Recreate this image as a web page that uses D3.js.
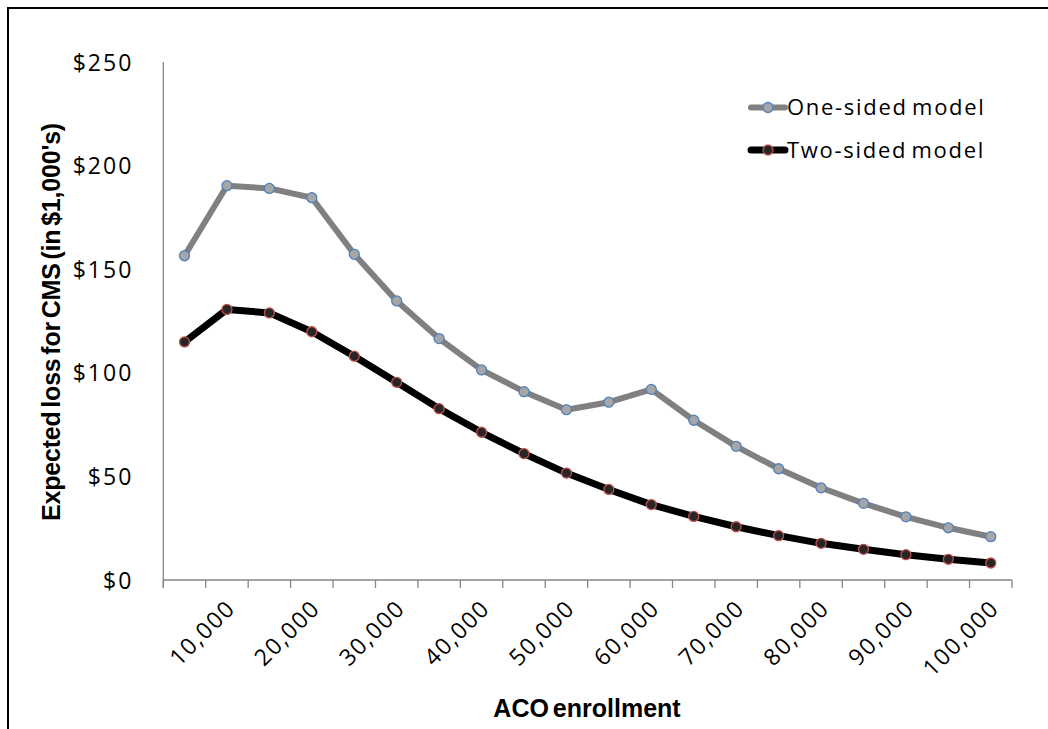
<!DOCTYPE html>
<html>
<head>
<meta charset="utf-8">
<script src="https://cdn.jsdelivr.net/npm/d3@7"></script>
<style>
  html, body { margin: 0; padding: 0; background: #fff; }
  svg { display: block; }
</style>
</head>
<body>
<svg id="chart" width="1048" height="729"></svg>
<script>
// ACO enrollment categories (5,000 to 100,000 in steps of 5,000)
const enrollment = [5000, 10000, 15000, 20000, 25000, 30000, 35000, 40000, 45000, 50000,
                    55000, 60000, 65000, 70000, 75000, 80000, 85000, 90000, 95000, 100000];

// Expected loss for CMS, in $1,000's
const oneSided = [156.5, 190.3, 189.0, 184.5, 157.2, 134.7, 116.5, 101.4, 90.9, 82.2,
                  85.8, 92.0, 77.1, 64.5, 53.7, 44.5, 37.0, 30.5, 25.2, 20.9];
const twoSided = [114.9, 130.6, 128.9, 119.8, 108.0, 95.4, 82.7, 71.3, 61.0, 51.6,
                  43.7, 36.4, 30.7, 25.7, 21.4, 17.7, 14.8, 12.2, 10.0, 8.2];

const yTicks = [0, 50, 100, 150, 200, 250];
const xTickLabels = [10000, 20000, 30000, 40000, 50000, 60000, 70000, 80000, 90000, 100000];

const seriesNames = ["One-sided model", "Two-sided model"];

const svg = d3.select("#chart");

// chart frame (left and top edges)
svg.append("line").attr("x1", 8).attr("x2", 8).attr("y1", 8).attr("y2", 729)
  .attr("stroke", "#000").attr("stroke-width", 2);
svg.append("line").attr("x1", 7).attr("x2", 1048).attr("y1", 8).attr("y2", 8)
  .attr("stroke", "#000").attr("stroke-width", 2);

const plot = { left: 163.3, right: 1012, top: 62, bottom: 580 };

const x = d3.scaleBand()
  .domain(enrollment)
  .range([plot.left, plot.right])
  .paddingInner(0).paddingOuter(0);

const y = d3.scaleLinear()
  .domain([0, 250])
  .range([plot.bottom, plot.top]);

const axisColor = "#868686";
const tickFont = "'Open Sans', 'DejaVu Sans', sans-serif";

// Y axis: line plus dollar labels
const yAxis = svg.append("g")
  .attr("transform", `translate(${plot.left},0)`)
  .call(d3.axisLeft(y).tickValues(yTicks).tickSize(0).tickPadding(30)
    .tickFormat(d => "$" + d));
yAxis.select(".domain").attr("stroke", axisColor).attr("stroke-width", 1.3)
  .attr("d", `M0,${plot.top}V${plot.bottom + 8}`);
yAxis.selectAll("text")
  .attr("font-family", tickFont)
  .attr("font-size", 23)
  .attr("letter-spacing", 2)
  .attr("fill", "#000")
  .attr("dy", "0.35em");

// X axis: boundary tick marks between categories
const boundaries = enrollment.map(d => x(d)).concat([plot.right]);
const xg = svg.append("g");
xg.append("line")
  .attr("x1", plot.left).attr("x2", plot.right)
  .attr("y1", plot.bottom).attr("y2", plot.bottom)
  .attr("stroke", axisColor).attr("stroke-width", 1.3);
xg.selectAll("line.tick")
  .data(boundaries)
  .join("line")
  .attr("class", "tick")
  .attr("x1", d => d).attr("x2", d => d)
  .attr("y1", plot.bottom).attr("y2", plot.bottom + 8)
  .attr("stroke", axisColor).attr("stroke-width", 1.3);

// rotated category labels (every other category)
xg.selectAll("text")
  .data(xTickLabels)
  .join("text")
  .attr("transform", d => `translate(${x(d) + x.bandwidth() / 2 + 4},${plot.bottom + 24}) rotate(-45)`)
  .attr("text-anchor", "end")
  .attr("font-family", tickFont)
  .attr("font-size", 23)
  .attr("letter-spacing", 1.6)
  .attr("dy", "0.35em")
  .text(d => d3.format(",")(d));

// axis titles
svg.append("text")
  .attr("transform", `translate(60,322) rotate(-90)`)
  .attr("text-anchor", "middle")
  .attr("font-family", "'Liberation Sans', Arial, sans-serif")
  .attr("font-weight", "bold")
  .attr("font-size", 25)
  .attr("letter-spacing", -0.2)
  .attr("word-spacing", -3)
  .text("Expected loss for CMS (in $1,000's)");

svg.append("text")
  .attr("x", 587).attr("y", 717)
  .attr("text-anchor", "middle")
  .attr("font-family", "'Liberation Sans', Arial, sans-serif")
  .attr("font-weight", "bold")
  .attr("font-size", 25)
  .attr("letter-spacing", 0)
  .attr("word-spacing", -3)
  .text("ACO enrollment");

// series
const cx = d => x(d) + x.bandwidth() / 2;
const styles = [
  { values: oneSided, line: "#808080", width: 6, fill: "#a6a6a6", stroke: "#4f81bd" },
  { values: twoSided, line: "#000000", width: 7, fill: "#262626", stroke: "#c0504d" }
];

const lineGen = d3.line().x(d => cx(d.x)).y(d => y(d.v));

styles.forEach(s => {
  const pts = enrollment.map((e, i) => ({ x: e, v: s.values[i] }));
  svg.append("path")
    .datum(pts)
    .attr("d", lineGen)
    .attr("fill", "none")
    .attr("stroke", s.line)
    .attr("stroke-width", s.width)
    .attr("stroke-linejoin", "round");
  svg.append("g").selectAll("circle")
    .data(pts)
    .join("circle")
    .attr("cx", d => cx(d.x))
    .attr("cy", d => y(d.v))
    .attr("r", 5)
    .attr("fill", s.fill)
    .attr("stroke", s.stroke)
    .attr("stroke-width", 1.3);
});

// legend
const legend = svg.append("g");
const legendY = [107.5, 150];
styles.forEach((s, i) => {
  const g = legend.append("g").attr("transform", `translate(0,${legendY[i]})`);
  g.append("line").attr("x1", 751).attr("x2", 785).attr("y1", 0).attr("y2", 0)
    .attr("stroke", s.line).attr("stroke-width", s.width).attr("stroke-linecap", "round");
  g.append("circle").attr("cx", 768).attr("cy", 0).attr("r", 5)
    .attr("fill", s.fill).attr("stroke", s.stroke).attr("stroke-width", 1.3);
  g.append("text")
    .attr("x", 787).attr("y", 0).attr("dy", "0.35em")
    .attr("font-family", tickFont)
    .attr("font-size", 22)
    .attr("letter-spacing", 1.7)
    .attr("word-spacing", -3)
    .text(seriesNames[i]);
});
</script>
</body>
</html>
